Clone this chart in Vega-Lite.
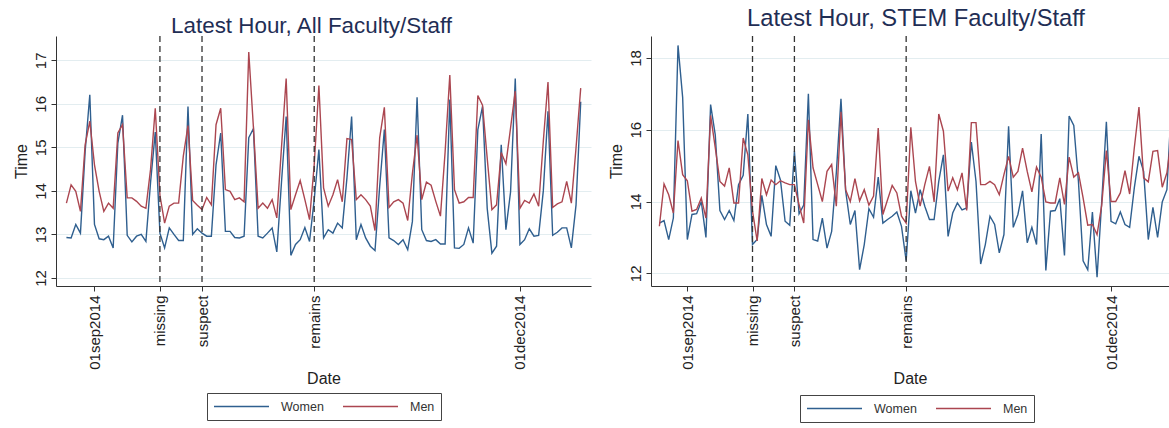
{
"$schema": "https://vega.github.io/schema/vega-lite/v6.json",
"background": "white",
"padding": {"left": 13, "top": 6, "right": 0, "bottom": 0},
"bounds": "flush",
"spacing": 60,
"resolve": {"scale": {"color": "independent"}},
"config": {
  "font": "Liberation Sans",
  "view": {"stroke": null},
  "axis": {"domainColor": "#333", "tickColor": "#333", "labelColor": "#222", "titleColor": "#222", "titleFontWeight": "normal", "labelFontSize": 15, "titleFontSize": 16, "tickSize": 5},
  "axisY": {"grid": true, "gridColor": "#e3edf0", "labelAngle": -90, "labelAlign": "center", "labelBaseline": "bottom", "labelPadding": 3, "titlePadding": 4},
  "axisX": {"grid": false, "labelAngle": -90, "labelAlign": "right", "labelBaseline": "middle", "labelPadding": 4, "titlePadding": 1},
  "title": {"color": "#1f2e55", "fontWeight": "normal"},
  "legend": {"orient": "none", "direction": "horizontal", "title": null, "symbolType": "stroke", "symbolSize": 3025, "symbolStrokeWidth": 1.5, "clipHeight": 15, "labelFontSize": 12.5, "labelOffset": 11, "columnPadding": 18, "padding": 6, "strokeColor": "#444", "labelColor": "#333"}
},
"hconcat": [
{
  "title": {"text": "Latest Hour, All Faculty/Staff", "offset": -2, "dx": -12, "fontSize": 22.4},
  "width": 535, "height": 250,
  "layer": [
  {
    "data": {"values": [
{"date":"2014-08-26","sex":"Women","time":12.93},{"date":"2014-08-27","sex":"Women","time":12.92},{"date":"2014-08-28","sex":"Women","time":13.23},{"date":"2014-08-29","sex":"Women","time":13.03},{"date":"2014-08-30","sex":"Women","time":14.9},{"date":"2014-08-31","sex":"Women","time":16.21},
{"date":"2014-09-01","sex":"Women","time":13.23},{"date":"2014-09-02","sex":"Women","time":12.9},{"date":"2014-09-03","sex":"Women","time":12.88},{"date":"2014-09-04","sex":"Women","time":12.96},{"date":"2014-09-05","sex":"Women","time":12.69},{"date":"2014-09-06","sex":"Women","time":15.1},{"date":"2014-09-07","sex":"Women","time":15.74},
{"date":"2014-09-08","sex":"Women","time":12.98},{"date":"2014-09-09","sex":"Women","time":12.83},{"date":"2014-09-10","sex":"Women","time":12.96},{"date":"2014-09-11","sex":"Women","time":13.0},{"date":"2014-09-12","sex":"Women","time":12.84},{"date":"2014-09-13","sex":"Women","time":14.2},{"date":"2014-09-14","sex":"Women","time":15.35},
{"date":"2014-09-15","sex":"Women","time":13.03},{"date":"2014-09-16","sex":"Women","time":12.69},{"date":"2014-09-17","sex":"Women","time":13.15},{"date":"2014-09-18","sex":"Women","time":13.0},{"date":"2014-09-19","sex":"Women","time":12.86},{"date":"2014-09-20","sex":"Women","time":12.86},{"date":"2014-09-21","sex":"Women","time":15.94},
{"date":"2014-09-22","sex":"Women","time":13.0},{"date":"2014-09-23","sex":"Women","time":13.13},{"date":"2014-09-24","sex":"Women","time":13.03},{"date":"2014-09-25","sex":"Women","time":12.96},{"date":"2014-09-26","sex":"Women","time":12.96},{"date":"2014-09-27","sex":"Women","time":14.6},{"date":"2014-09-28","sex":"Women","time":15.33},
{"date":"2014-09-29","sex":"Women","time":13.07},{"date":"2014-09-30","sex":"Women","time":13.07},{"date":"2014-10-01","sex":"Women","time":12.93},{"date":"2014-10-02","sex":"Women","time":12.92},{"date":"2014-10-03","sex":"Women","time":12.96},{"date":"2014-10-04","sex":"Women","time":15.22},{"date":"2014-10-05","sex":"Women","time":15.43},
{"date":"2014-10-06","sex":"Women","time":12.96},{"date":"2014-10-07","sex":"Women","time":12.92},{"date":"2014-10-08","sex":"Women","time":13.03},{"date":"2014-10-09","sex":"Women","time":13.15},{"date":"2014-10-10","sex":"Women","time":12.6},{"date":"2014-10-11","sex":"Women","time":14.2},{"date":"2014-10-12","sex":"Women","time":15.71},
{"date":"2014-10-13","sex":"Women","time":12.52},{"date":"2014-10-14","sex":"Women","time":12.77},{"date":"2014-10-15","sex":"Women","time":12.88},{"date":"2014-10-16","sex":"Women","time":13.16},{"date":"2014-10-17","sex":"Women","time":12.84},{"date":"2014-10-18","sex":"Women","time":13.8},{"date":"2014-10-19","sex":"Women","time":14.95},
{"date":"2014-10-20","sex":"Women","time":12.92},{"date":"2014-10-21","sex":"Women","time":13.11},{"date":"2014-10-22","sex":"Women","time":13.03},{"date":"2014-10-23","sex":"Women","time":13.26},{"date":"2014-10-24","sex":"Women","time":13.15},{"date":"2014-10-25","sex":"Women","time":14.3},{"date":"2014-10-26","sex":"Women","time":15.71},
{"date":"2014-10-27","sex":"Women","time":12.88},{"date":"2014-10-28","sex":"Women","time":13.23},{"date":"2014-10-29","sex":"Women","time":12.92},{"date":"2014-10-30","sex":"Women","time":12.73},{"date":"2014-10-31","sex":"Women","time":12.63},{"date":"2014-11-01","sex":"Women","time":14.1},{"date":"2014-11-02","sex":"Women","time":15.41},
{"date":"2014-11-03","sex":"Women","time":12.92},{"date":"2014-11-04","sex":"Women","time":12.86},{"date":"2014-11-05","sex":"Women","time":12.77},{"date":"2014-11-06","sex":"Women","time":12.88},{"date":"2014-11-07","sex":"Women","time":12.65},{"date":"2014-11-08","sex":"Women","time":13.3},{"date":"2014-11-09","sex":"Women","time":16.15},
{"date":"2014-11-10","sex":"Women","time":13.11},{"date":"2014-11-11","sex":"Women","time":12.86},{"date":"2014-11-12","sex":"Women","time":12.84},{"date":"2014-11-13","sex":"Women","time":12.88},{"date":"2014-11-14","sex":"Women","time":12.78},{"date":"2014-11-15","sex":"Women","time":12.78},{"date":"2014-11-16","sex":"Women","time":16.1},
{"date":"2014-11-17","sex":"Women","time":12.69},{"date":"2014-11-18","sex":"Women","time":12.68},{"date":"2014-11-19","sex":"Women","time":12.77},{"date":"2014-11-20","sex":"Women","time":13.15},{"date":"2014-11-21","sex":"Women","time":12.8},{"date":"2014-11-22","sex":"Women","time":15.41},{"date":"2014-11-23","sex":"Women","time":15.94},
{"date":"2014-11-24","sex":"Women","time":13.6},{"date":"2014-11-25","sex":"Women","time":12.57},{"date":"2014-11-26","sex":"Women","time":12.73},{"date":"2014-11-27","sex":"Women","time":15.06},{"date":"2014-11-28","sex":"Women","time":13.11},{"date":"2014-11-29","sex":"Women","time":13.98},{"date":"2014-11-30","sex":"Women","time":16.58},
{"date":"2014-12-01","sex":"Women","time":12.77},{"date":"2014-12-02","sex":"Women","time":12.88},{"date":"2014-12-03","sex":"Women","time":13.13},{"date":"2014-12-04","sex":"Women","time":12.96},{"date":"2014-12-05","sex":"Women","time":12.98},{"date":"2014-12-06","sex":"Women","time":14.0},{"date":"2014-12-07","sex":"Women","time":15.83},
{"date":"2014-12-08","sex":"Women","time":12.98},{"date":"2014-12-09","sex":"Women","time":13.05},{"date":"2014-12-10","sex":"Women","time":13.15},{"date":"2014-12-11","sex":"Women","time":13.15},{"date":"2014-12-12","sex":"Women","time":12.69},{"date":"2014-12-13","sex":"Women","time":13.68},{"date":"2014-12-14","sex":"Women","time":16.05},
{"date":"2014-08-26","sex":"Men","time":13.72},{"date":"2014-08-27","sex":"Men","time":14.14},{"date":"2014-08-28","sex":"Men","time":13.99},{"date":"2014-08-29","sex":"Men","time":13.53},{"date":"2014-08-30","sex":"Men","time":15.06},{"date":"2014-08-31","sex":"Men","time":15.6},
{"date":"2014-09-01","sex":"Men","time":14.6},{"date":"2014-09-02","sex":"Men","time":13.99},{"date":"2014-09-03","sex":"Men","time":13.53},{"date":"2014-09-04","sex":"Men","time":13.72},{"date":"2014-09-05","sex":"Men","time":13.6},{"date":"2014-09-06","sex":"Men","time":15.33},{"date":"2014-09-07","sex":"Men","time":15.52},
{"date":"2014-09-08","sex":"Men","time":13.84},{"date":"2014-09-09","sex":"Men","time":13.84},{"date":"2014-09-10","sex":"Men","time":13.76},{"date":"2014-09-11","sex":"Men","time":13.65},{"date":"2014-09-12","sex":"Men","time":13.6},{"date":"2014-09-13","sex":"Men","time":14.5},{"date":"2014-09-14","sex":"Men","time":15.9},
{"date":"2014-09-15","sex":"Men","time":13.9},{"date":"2014-09-16","sex":"Men","time":13.26},{"date":"2014-09-17","sex":"Men","time":13.65},{"date":"2014-09-18","sex":"Men","time":13.72},{"date":"2014-09-19","sex":"Men","time":13.72},{"date":"2014-09-20","sex":"Men","time":14.8},{"date":"2014-09-21","sex":"Men","time":15.5},
{"date":"2014-09-22","sex":"Men","time":13.78},{"date":"2014-09-23","sex":"Men","time":13.67},{"date":"2014-09-24","sex":"Men","time":13.57},{"date":"2014-09-25","sex":"Men","time":13.85},{"date":"2014-09-26","sex":"Men","time":13.68},{"date":"2014-09-27","sex":"Men","time":15.52},{"date":"2014-09-28","sex":"Men","time":15.9},
{"date":"2014-09-29","sex":"Men","time":14.03},{"date":"2014-09-30","sex":"Men","time":13.99},{"date":"2014-10-01","sex":"Men","time":13.8},{"date":"2014-10-02","sex":"Men","time":13.84},{"date":"2014-10-03","sex":"Men","time":13.75},{"date":"2014-10-04","sex":"Men","time":17.19},{"date":"2014-10-05","sex":"Men","time":15.45},
{"date":"2014-10-06","sex":"Men","time":13.6},{"date":"2014-10-07","sex":"Men","time":13.72},{"date":"2014-10-08","sex":"Men","time":13.6},{"date":"2014-10-09","sex":"Men","time":13.8},{"date":"2014-10-10","sex":"Men","time":13.38},{"date":"2014-10-11","sex":"Men","time":15.0},{"date":"2014-10-12","sex":"Men","time":16.58},
{"date":"2014-10-13","sex":"Men","time":13.57},{"date":"2014-10-14","sex":"Men","time":13.91},{"date":"2014-10-15","sex":"Men","time":14.24},{"date":"2014-10-16","sex":"Men","time":13.8},{"date":"2014-10-17","sex":"Men","time":13.34},{"date":"2014-10-18","sex":"Men","time":14.6},{"date":"2014-10-19","sex":"Men","time":16.42},
{"date":"2014-10-20","sex":"Men","time":14.07},{"date":"2014-10-21","sex":"Men","time":13.65},{"date":"2014-10-22","sex":"Men","time":13.91},{"date":"2014-10-23","sex":"Men","time":14.26},{"date":"2014-10-24","sex":"Men","time":13.75},{"date":"2014-10-25","sex":"Men","time":15.2},{"date":"2014-10-26","sex":"Men","time":15.18},
{"date":"2014-10-27","sex":"Men","time":13.8},{"date":"2014-10-28","sex":"Men","time":13.91},{"date":"2014-10-29","sex":"Men","time":13.8},{"date":"2014-10-30","sex":"Men","time":13.65},{"date":"2014-10-31","sex":"Men","time":13.09},{"date":"2014-11-01","sex":"Men","time":15.22},{"date":"2014-11-02","sex":"Men","time":15.92},
{"date":"2014-11-03","sex":"Men","time":13.62},{"date":"2014-11-04","sex":"Men","time":13.75},{"date":"2014-11-05","sex":"Men","time":13.8},{"date":"2014-11-06","sex":"Men","time":13.72},{"date":"2014-11-07","sex":"Men","time":13.32},{"date":"2014-11-08","sex":"Men","time":14.4},{"date":"2014-11-09","sex":"Men","time":15.28},
{"date":"2014-11-10","sex":"Men","time":13.8},{"date":"2014-11-11","sex":"Men","time":14.2},{"date":"2014-11-12","sex":"Men","time":14.13},{"date":"2014-11-13","sex":"Men","time":13.76},{"date":"2014-11-14","sex":"Men","time":13.42},{"date":"2014-11-15","sex":"Men","time":14.9},{"date":"2014-11-16","sex":"Men","time":16.66},
{"date":"2014-11-17","sex":"Men","time":14.03},{"date":"2014-11-18","sex":"Men","time":13.72},{"date":"2014-11-19","sex":"Men","time":13.75},{"date":"2014-11-20","sex":"Men","time":13.85},{"date":"2014-11-21","sex":"Men","time":13.85},{"date":"2014-11-22","sex":"Men","time":16.19},{"date":"2014-11-23","sex":"Men","time":15.97},
{"date":"2014-11-24","sex":"Men","time":14.75},{"date":"2014-11-25","sex":"Men","time":13.57},{"date":"2014-11-26","sex":"Men","time":13.68},{"date":"2014-11-27","sex":"Men","time":14.88},{"date":"2014-11-28","sex":"Men","time":14.62},{"date":"2014-11-29","sex":"Men","time":15.45},{"date":"2014-11-30","sex":"Men","time":16.29},
{"date":"2014-12-01","sex":"Men","time":13.6},{"date":"2014-12-02","sex":"Men","time":13.78},{"date":"2014-12-03","sex":"Men","time":13.72},{"date":"2014-12-04","sex":"Men","time":13.93},{"date":"2014-12-05","sex":"Men","time":13.65},{"date":"2014-12-06","sex":"Men","time":15.14},{"date":"2014-12-07","sex":"Men","time":16.5},
{"date":"2014-12-08","sex":"Men","time":13.62},{"date":"2014-12-09","sex":"Men","time":13.7},{"date":"2014-12-10","sex":"Men","time":13.75},{"date":"2014-12-11","sex":"Men","time":14.22},{"date":"2014-12-12","sex":"Men","time":13.72},{"date":"2014-12-13","sex":"Men","time":14.99},{"date":"2014-12-14","sex":"Men","time":16.36}
    ]},
    "mark": {"type": "line", "strokeWidth": 1.4, "clip": true},
    "encoding": {
      "x": {"field": "date", "type": "temporal", "scale": {"type": "utc", "domain": [1408818528000, 1418705280000], "nice": false},
            "axis": {"title": "Date", "values": [1409529600000, 1410739200000, 1411516800000, 1413590400000, 1417392000000],
                     "labelExpr": "time(datum.value) == 1409529600000 ? '01sep2014' : time(datum.value) == 1410739200000 ? 'missing' : time(datum.value) == 1411516800000 ? 'suspect' : time(datum.value) == 1413590400000 ? 'remains' : '01dec2014'",
                     "labelOverlap": false, "labelFlush": false, "labelBound": false}},
      "y": {"field": "time", "type": "quantitative", "scale": {"domain": [11.816, 17.558], "nice": false, "zero": false},
            "axis": {"title": "Time", "values": [12, 13, 14, 15, 16, 17]}},
      "color": {"field": "sex", "type": "nominal", "sort": ["Women", "Men"], "scale": {"domain": ["Women", "Men"], "range": ["#2f5f8f", "#ab4650"]},
                "legend": {"legendX": 151, "legendY": 357}}
    }
  },
  {
    "data": {"values": [{"event": "missing", "date": "2014-09-15"}, {"event": "suspect", "date": "2014-09-24"}, {"event": "remains", "date": "2014-10-18"}]},
    "mark": {"type": "rule", "color": "#333", "strokeDash": [6, 4], "strokeWidth": 1.3},
    "encoding": {"x": {"field": "date", "type": "temporal"}}
  }
  ]
},
{
  "title": {"text": "Latest Hour, STEM Faculty/Staff", "offset": 5, "dx": 6, "fontSize": 23.7},
  "width": 518, "height": 250,
  "layer": [
  {
    "data": {"values": [
{"date":"2014-08-26","sex":"Women","time":13.4},{"date":"2014-08-27","sex":"Women","time":13.47},{"date":"2014-08-28","sex":"Women","time":12.94},{"date":"2014-08-29","sex":"Women","time":13.54},{"date":"2014-08-30","sex":"Women","time":18.35},{"date":"2014-08-31","sex":"Women","time":16.9},
{"date":"2014-09-01","sex":"Women","time":12.94},{"date":"2014-09-02","sex":"Women","time":13.64},{"date":"2014-09-03","sex":"Women","time":13.66},{"date":"2014-09-04","sex":"Women","time":14.0},{"date":"2014-09-05","sex":"Women","time":13.0},{"date":"2014-09-06","sex":"Women","time":16.7},{"date":"2014-09-07","sex":"Women","time":15.86},
{"date":"2014-09-08","sex":"Women","time":13.75},{"date":"2014-09-09","sex":"Women","time":13.5},{"date":"2014-09-10","sex":"Women","time":13.75},{"date":"2014-09-11","sex":"Women","time":13.47},{"date":"2014-09-12","sex":"Women","time":14.47},{"date":"2014-09-13","sex":"Women","time":14.73},{"date":"2014-09-14","sex":"Women","time":16.44},
{"date":"2014-09-15","sex":"Women","time":12.8},{"date":"2014-09-16","sex":"Women","time":12.94},{"date":"2014-09-17","sex":"Women","time":14.17},{"date":"2014-09-18","sex":"Women","time":13.36},{"date":"2014-09-19","sex":"Women","time":13.03},{"date":"2014-09-20","sex":"Women","time":15.0},{"date":"2014-09-21","sex":"Women","time":14.6},
{"date":"2014-09-22","sex":"Women","time":13.45},{"date":"2014-09-23","sex":"Women","time":13.34},{"date":"2014-09-24","sex":"Women","time":15.4},{"date":"2014-09-25","sex":"Women","time":13.66},{"date":"2014-09-26","sex":"Women","time":13.9},{"date":"2014-09-27","sex":"Women","time":17.0},{"date":"2014-09-28","sex":"Women","time":12.94},
{"date":"2014-09-29","sex":"Women","time":12.9},{"date":"2014-09-30","sex":"Women","time":13.54},{"date":"2014-10-01","sex":"Women","time":12.7},{"date":"2014-10-02","sex":"Women","time":13.17},{"date":"2014-10-03","sex":"Women","time":14.8},{"date":"2014-10-04","sex":"Women","time":16.86},{"date":"2014-10-05","sex":"Women","time":14.3},
{"date":"2014-10-06","sex":"Women","time":13.36},{"date":"2014-10-07","sex":"Women","time":13.75},{"date":"2014-10-08","sex":"Women","time":12.1},{"date":"2014-10-09","sex":"Women","time":12.8},{"date":"2014-10-10","sex":"Women","time":13.8},{"date":"2014-10-11","sex":"Women","time":13.56},{"date":"2014-10-12","sex":"Women","time":14.68},
{"date":"2014-10-13","sex":"Women","time":13.4},{"date":"2014-10-14","sex":"Women","time":13.5},{"date":"2014-10-15","sex":"Women","time":13.59},{"date":"2014-10-16","sex":"Women","time":13.71},{"date":"2014-10-17","sex":"Women","time":13.31},{"date":"2014-10-18","sex":"Women","time":12.35},{"date":"2014-10-19","sex":"Women","time":14.3},
{"date":"2014-10-20","sex":"Women","time":13.68},{"date":"2014-10-21","sex":"Women","time":14.33},{"date":"2014-10-22","sex":"Women","time":13.87},{"date":"2014-10-23","sex":"Women","time":13.5},{"date":"2014-10-24","sex":"Women","time":13.5},{"date":"2014-10-25","sex":"Women","time":14.56},{"date":"2014-10-26","sex":"Women","time":15.3},
{"date":"2014-10-27","sex":"Women","time":13.03},{"date":"2014-10-28","sex":"Women","time":13.68},{"date":"2014-10-29","sex":"Women","time":13.96},{"date":"2014-10-30","sex":"Women","time":13.77},{"date":"2014-10-31","sex":"Women","time":13.82},{"date":"2014-11-01","sex":"Women","time":15.66},{"date":"2014-11-02","sex":"Women","time":14.56},
{"date":"2014-11-03","sex":"Women","time":12.26},{"date":"2014-11-04","sex":"Women","time":12.8},{"date":"2014-11-05","sex":"Women","time":13.59},{"date":"2014-11-06","sex":"Women","time":13.36},{"date":"2014-11-07","sex":"Women","time":12.57},{"date":"2014-11-08","sex":"Women","time":13.08},{"date":"2014-11-09","sex":"Women","time":16.1},
{"date":"2014-11-10","sex":"Women","time":13.28},{"date":"2014-11-11","sex":"Women","time":13.64},{"date":"2014-11-12","sex":"Women","time":14.3},{"date":"2014-11-13","sex":"Women","time":12.85},{"date":"2014-11-14","sex":"Women","time":13.28},{"date":"2014-11-15","sex":"Women","time":12.8},{"date":"2014-11-16","sex":"Women","time":15.88},
{"date":"2014-11-17","sex":"Women","time":12.08},{"date":"2014-11-18","sex":"Women","time":13.73},{"date":"2014-11-19","sex":"Women","time":13.75},{"date":"2014-11-20","sex":"Women","time":14.08},{"date":"2014-11-21","sex":"Women","time":12.5},{"date":"2014-11-22","sex":"Women","time":16.38},{"date":"2014-11-23","sex":"Women","time":16.12},
{"date":"2014-11-24","sex":"Women","time":14.56},{"date":"2014-11-25","sex":"Women","time":12.35},{"date":"2014-11-26","sex":"Women","time":12.1},{"date":"2014-11-27","sex":"Women","time":13.71},{"date":"2014-11-28","sex":"Women","time":11.89},{"date":"2014-11-29","sex":"Women","time":14.0},{"date":"2014-11-30","sex":"Women","time":16.22},
{"date":"2014-12-01","sex":"Women","time":13.45},{"date":"2014-12-02","sex":"Women","time":13.38},{"date":"2014-12-03","sex":"Women","time":13.71},{"date":"2014-12-04","sex":"Women","time":13.36},{"date":"2014-12-05","sex":"Women","time":13.28},{"date":"2014-12-06","sex":"Women","time":14.38},{"date":"2014-12-07","sex":"Women","time":15.26},
{"date":"2014-12-08","sex":"Women","time":14.84},{"date":"2014-12-09","sex":"Women","time":12.94},{"date":"2014-12-10","sex":"Women","time":13.84},{"date":"2014-12-11","sex":"Women","time":13.0},{"date":"2014-12-12","sex":"Women","time":13.99},{"date":"2014-12-13","sex":"Women","time":14.33},{"date":"2014-12-14","sex":"Women","time":16.8},
{"date":"2014-08-26","sex":"Men","time":13.31},{"date":"2014-08-27","sex":"Men","time":14.49},{"date":"2014-08-28","sex":"Men","time":14.19},{"date":"2014-08-29","sex":"Men","time":13.68},{"date":"2014-08-30","sex":"Men","time":15.7},{"date":"2014-08-31","sex":"Men","time":14.75},
{"date":"2014-09-01","sex":"Men","time":14.58},{"date":"2014-09-02","sex":"Men","time":13.73},{"date":"2014-09-03","sex":"Men","time":13.78},{"date":"2014-09-04","sex":"Men","time":14.1},{"date":"2014-09-05","sex":"Men","time":13.54},{"date":"2014-09-06","sex":"Men","time":16.4},{"date":"2014-09-07","sex":"Men","time":15.5},
{"date":"2014-09-08","sex":"Men","time":14.56},{"date":"2014-09-09","sex":"Men","time":14.43},{"date":"2014-09-10","sex":"Men","time":14.94},{"date":"2014-09-11","sex":"Men","time":13.96},{"date":"2014-09-12","sex":"Men","time":13.96},{"date":"2014-09-13","sex":"Men","time":15.77},{"date":"2014-09-14","sex":"Men","time":15.3},
{"date":"2014-09-15","sex":"Men","time":13.73},{"date":"2014-09-16","sex":"Men","time":12.9},{"date":"2014-09-17","sex":"Men","time":14.64},{"date":"2014-09-18","sex":"Men","time":14.19},{"date":"2014-09-19","sex":"Men","time":14.6},{"date":"2014-09-20","sex":"Men","time":14.47},{"date":"2014-09-21","sex":"Men","time":14.58},
{"date":"2014-09-22","sex":"Men","time":14.52},{"date":"2014-09-23","sex":"Men","time":14.47},{"date":"2014-09-24","sex":"Men","time":14.47},{"date":"2014-09-25","sex":"Men","time":13.91},{"date":"2014-09-26","sex":"Men","time":13.4},{"date":"2014-09-27","sex":"Men","time":16.28},{"date":"2014-09-28","sex":"Men","time":14.94},
{"date":"2014-09-29","sex":"Men","time":14.47},{"date":"2014-09-30","sex":"Men","time":14.0},{"date":"2014-10-01","sex":"Men","time":14.84},{"date":"2014-10-02","sex":"Men","time":15.03},{"date":"2014-10-03","sex":"Men","time":13.87},{"date":"2014-10-04","sex":"Men","time":16.5},{"date":"2014-10-05","sex":"Men","time":14.33},
{"date":"2014-10-06","sex":"Men","time":14.0},{"date":"2014-10-07","sex":"Men","time":14.64},{"date":"2014-10-08","sex":"Men","time":14.02},{"date":"2014-10-09","sex":"Men","time":14.33},{"date":"2014-10-10","sex":"Men","time":13.9},{"date":"2014-10-11","sex":"Men","time":14.15},{"date":"2014-10-12","sex":"Men","time":16.05},
{"date":"2014-10-13","sex":"Men","time":13.64},{"date":"2014-10-14","sex":"Men","time":14.05},{"date":"2014-10-15","sex":"Men","time":14.45},{"date":"2014-10-16","sex":"Men","time":14.24},{"date":"2014-10-17","sex":"Men","time":13.59},{"date":"2014-10-18","sex":"Men","time":13.4},{"date":"2014-10-19","sex":"Men","time":16.07},
{"date":"2014-10-20","sex":"Men","time":14.56},{"date":"2014-10-21","sex":"Men","time":13.87},{"date":"2014-10-22","sex":"Men","time":14.47},{"date":"2014-10-23","sex":"Men","time":14.98},{"date":"2014-10-24","sex":"Men","time":13.99},{"date":"2014-10-25","sex":"Men","time":16.44},{"date":"2014-10-26","sex":"Men","time":15.96},
{"date":"2014-10-27","sex":"Men","time":14.29},{"date":"2014-10-28","sex":"Men","time":14.66},{"date":"2014-10-29","sex":"Men","time":14.33},{"date":"2014-10-30","sex":"Men","time":14.8},{"date":"2014-10-31","sex":"Men","time":13.75},{"date":"2014-11-01","sex":"Men","time":16.2},{"date":"2014-11-02","sex":"Men","time":16.2},
{"date":"2014-11-03","sex":"Men","time":14.47},{"date":"2014-11-04","sex":"Men","time":14.47},{"date":"2014-11-05","sex":"Men","time":14.56},{"date":"2014-11-06","sex":"Men","time":14.47},{"date":"2014-11-07","sex":"Men","time":14.19},{"date":"2014-11-08","sex":"Men","time":14.75},{"date":"2014-11-09","sex":"Men","time":15.26},
{"date":"2014-11-10","sex":"Men","time":14.68},{"date":"2014-11-11","sex":"Men","time":14.84},{"date":"2014-11-12","sex":"Men","time":15.49},{"date":"2014-11-13","sex":"Men","time":14.84},{"date":"2014-11-14","sex":"Men","time":14.27},{"date":"2014-11-15","sex":"Men","time":14.96},{"date":"2014-11-16","sex":"Men","time":14.68},
{"date":"2014-11-17","sex":"Men","time":13.99},{"date":"2014-11-18","sex":"Men","time":13.96},{"date":"2014-11-19","sex":"Men","time":13.96},{"date":"2014-11-20","sex":"Men","time":14.66},{"date":"2014-11-21","sex":"Men","time":13.92},{"date":"2014-11-22","sex":"Men","time":15.24},{"date":"2014-11-23","sex":"Men","time":14.68},
{"date":"2014-11-24","sex":"Men","time":14.8},{"date":"2014-11-25","sex":"Men","time":14.1},{"date":"2014-11-26","sex":"Men","time":13.34},{"date":"2014-11-27","sex":"Men","time":13.36},{"date":"2014-11-28","sex":"Men","time":13.08},{"date":"2014-11-29","sex":"Men","time":13.9},{"date":"2014-11-30","sex":"Men","time":15.42},
{"date":"2014-12-01","sex":"Men","time":14.0},{"date":"2014-12-02","sex":"Men","time":14.0},{"date":"2014-12-03","sex":"Men","time":14.24},{"date":"2014-12-04","sex":"Men","time":14.86},{"date":"2014-12-05","sex":"Men","time":14.21},{"date":"2014-12-06","sex":"Men","time":15.5},{"date":"2014-12-07","sex":"Men","time":16.63},
{"date":"2014-12-08","sex":"Men","time":14.66},{"date":"2014-12-09","sex":"Men","time":14.55},{"date":"2014-12-10","sex":"Men","time":15.4},{"date":"2014-12-11","sex":"Men","time":15.42},{"date":"2014-12-12","sex":"Men","time":14.4},{"date":"2014-12-13","sex":"Men","time":14.8},{"date":"2014-12-14","sex":"Men","time":15.8}
    ]},
    "mark": {"type": "line", "strokeWidth": 1.4, "clip": true},
    "encoding": {
      "x": {"field": "date", "type": "temporal", "scale": {"type": "utc", "domain": [1408855680000, 1418467680000], "nice": false},
            "axis": {"title": "Date", "values": [1409529600000, 1410739200000, 1411516800000, 1413590400000, 1417392000000],
                     "labelExpr": "time(datum.value) == 1409529600000 ? '01sep2014' : time(datum.value) == 1410739200000 ? 'missing' : time(datum.value) == 1411516800000 ? 'suspect' : time(datum.value) == 1413590400000 ? 'remains' : '01dec2014'",
                     "labelOverlap": false, "labelFlush": false, "labelBound": false}},
      "y": {"field": "time", "type": "quantitative", "scale": {"domain": [11.646, 18.613], "nice": false, "zero": false},
            "axis": {"title": "Time", "values": [12, 14, 16, 18]}},
      "color": {"field": "sex", "type": "nominal", "sort": ["Women", "Men"], "scale": {"domain": ["Women", "Men"], "range": ["#2f5f8f", "#ab4650"]},
                "legend": {"legendX": 149, "legendY": 359}}
    }
  },
  {
    "data": {"values": [{"event": "missing", "date": "2014-09-15"}, {"event": "suspect", "date": "2014-09-24"}, {"event": "remains", "date": "2014-10-18"}]},
    "mark": {"type": "rule", "color": "#333", "strokeDash": [6, 4], "strokeWidth": 1.3},
    "encoding": {"x": {"field": "date", "type": "temporal"}}
  }
  ]
}
]
}
